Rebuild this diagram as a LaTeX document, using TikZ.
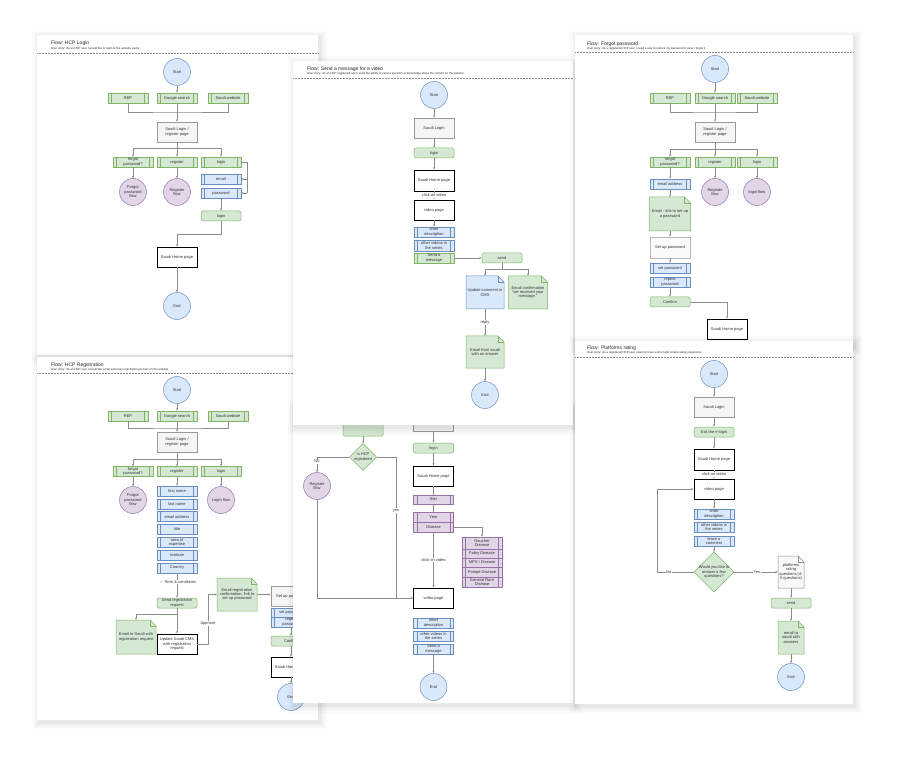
\documentclass[tikz,border=0pt]{standalone}
\usepackage{fontspec}
\setmainfont{Liberation Sans}
\newfontfamily\djv{DejaVu Sans}
\usetikzlibrary{arrows.meta,calc}
\definecolor{gfill}{HTML}{D5E8D4}
\definecolor{gline}{HTML}{82B366}
\definecolor{bfill}{HTML}{DAE8FC}
\definecolor{bline}{HTML}{6C8EBF}
\definecolor{pfill}{HTML}{E1D5E7}
\definecolor{pline}{HTML}{9673A6}
\definecolor{kfill}{HTML}{F5F5F5}
\definecolor{kline}{HTML}{9A9A9A}
\definecolor{cline}{HTML}{8C8C8C}
\definecolor{txtc}{HTML}{333333}
\tikzset{
 txt/.style={font=\fontsize{4}{4.4}\selectfont, text=txtc, align=center, inner sep=0.5pt},
 bx/.style={txt, rectangle, minimum width=40pt, minimum height=10pt, line width=0.5pt},
 innerlines/.style={path picture={\draw[#1, line width=0.4pt] ([xshift=3.5pt]path picture bounding box.north west) -- ([xshift=3.5pt]path picture bounding box.south west) ([xshift=-3.5pt]path picture bounding box.north east) -- ([xshift=-3.5pt]path picture bounding box.south east);}},
 procg/.style={bx, fill=gfill, draw=gline, innerlines=gline},
 procb/.style={bx, fill=bfill, draw=bline, innerlines=bline},
 procp/.style={bx, fill=pfill, draw=pline, innerlines=pline},
 rndg/.style={bx, fill=gfill, draw=gline, rounded corners=1.5pt},
 grayb/.style={bx, fill=kfill, draw=kline, minimum height=20pt},
 homeb/.style={bx, fill=white, draw=black, line width=0.9pt, minimum height=20pt},
 circb/.style={txt, circle, minimum size=27pt, fill=bfill, draw=bline, line width=0.5pt},
 circp/.style={txt, circle, minimum size=27pt, fill=pfill, draw=pline, line width=0.5pt},
 ln/.style={draw=cline, line width=0.45pt},
 arr/.style={ln, -{Stealth[length=2.4pt,width=2pt]}},
 lbl/.style={txt, fill=white, inner sep=0.6pt},
 ttl/.style={font=\fontsize{5}{6}\selectfont, text=black!85, anchor=west, inner sep=0pt},
 sty/.style={font=\fontsize{2.9}{3.5}\selectfont, text=black!85, anchor=west, inner sep=0pt},
 hdots/.style={draw=black!45, dash pattern=on 0.6pt off 0.9pt, line width=0.4pt},
}
\newcommand\panel[4]{%
 \foreach \s/\o in {7/0.015,5/0.02,3/0.025,1.5/0.03}{\fill[black, opacity=\o] (#1-\s+1.5,#2-\s+2.5) rectangle (#3+\s+1.5,#4+\s+2.5);}
 \fill[white] (#1,#2) rectangle (#3,#4);
}
\newcommand\notenode[7]{%
 \path[#6, line width=0.5pt] (#2-#4/2,#3-#5/2) -- (#2+#4/2-6,#3-#5/2) -- (#2+#4/2,#3-#5/2+6) -- (#2+#4/2,#3+#5/2) -- (#2-#4/2,#3+#5/2) -- cycle;
 \draw[#6, fill=none, line width=0.5pt] (#2+#4/2-6,#3-#5/2) -- (#2+#4/2-6,#3-#5/2+6) -- (#2+#4/2,#3-#5/2+6);
 \node[txt, minimum width=#4pt, minimum height=#5pt] (#1) at (#2,#3) {#7};
}
\newcommand\dianode[6]{%
 \path[fill=gfill, draw=gline, line width=0.5pt] (#2,#3-#5/2) -- (#2+#4/2,#3) -- (#2,#3+#5/2) -- (#2-#4/2,#3) -- cycle;
 \node[txt, minimum width=#4pt, minimum height=#5pt] (#1) at (#2,#3) {#6};
}
\begin{document}
\begin{tikzpicture}[x=1pt,y=-1pt]
\useasboundingbox (0,0) rectangle (897,759);
\fill[white] (0,0) rectangle (897,759);

% ================= P1 HCP Login
\panel{37}{35}{318}{355}
\node[ttl] (aTi) at (51,43) {Flow: HCP Login};
\node[sty] (aSt) at (51,48.5) {User story: As an HCP user I would like to login to the website easily};
\draw[hdots] (37,53) -- (318,53);
\node[circb] (aStart) at (177,72) {Start};
\node[procg] (aRep) at (128,98) {REP};
\node[procg] (aGoo) at (177,98) {Google search};
\node[procg] (aWeb) at (228,98) {Saudi website};
\coordinate (aJ) at (177,112);
\node[grayb] (aBox) at (177,132) {Saudi Login /\\register page};
\coordinate (aB) at (177,148);
\node[procg] (aFp) at (133,162) {forgot\\password?};
\node[procg] (aReg) at (177,162) {register};
\node[procg] (aLog) at (221,162) {login};
\node[circp] (aFpf) at (133,192) {Forgot\\password\\flow};
\node[circp] (aRegf) at (177,192) {Register\\flow};
\node[procb] (aEm) at (221,179) {email};
\node[procb] (aPw) at (221,193) {password};
\coordinate (aR1) at (247,162); \coordinate (aR2) at (247,179); \coordinate (aR3) at (247,193);
\node[rndg] (aLog2) at (221,216) {login};
\coordinate (aK) at (221,234);
\node[homeb] (aHome) at (177,257) {Saudi Home page};
\node[circb] (aEnd) at (177,306) {End};
\draw[arr] (aStart) -- (aGoo);
\draw[ln] (aRep.south) |- (aJ) -| (aWeb.south);
\draw[arr] (aGoo) -- (aBox);
\draw[ln] (aBox) -- (aB);
\draw[arr] (aB) -| (aFp.north);
\draw[arr] (aB) -| (aLog.north);
\draw[arr] (aB) -- (aReg);
\draw[arr] (aFp) -- (aFpf);
\draw[arr] (aReg) -- (aRegf);
\draw[ln] (aLog.east) -- (aR1) -- (aR3);
\draw[arr] (aR2) -- (aEm.east);
\draw[arr] (aR3) -- (aPw.east);
\draw[arr] (aPw) -- (aLog2);
\draw[arr] (aLog2.south) -- (aK) -| (aHome.north);
\draw[arr] (aHome) -- (aEnd);

% ================= P4 HCP Registration
\panel{37}{357}{318}{720}
\node[ttl] (dTi) at (51,365) {Flow: HCP Registration};
\node[sty] (dSt) at (51,369.5) {User story: As an HCP user I would like a fast and easy registration process on the website};
\draw[hdots] (37,373) -- (318,373);
\node[circb] (dStart) at (177,390) {Start};
\node[procg] (dRep) at (128,416) {REP};
\node[procg] (dGoo) at (177,416) {Google search};
\node[procg] (dWeb) at (228,416) {Saudi website};
\coordinate (dJ) at (177,428);
\node[grayb] (dBox) at (177,442) {Saudi Login /\\register page};
\coordinate (dB) at (177,459);
\node[procg] (dFp) at (133,471.5) {forgot\\password?};
\node[procg] (dReg) at (177,471.5) {register};
\node[procg] (dLog) at (221,471.5) {login};
\node[circp] (dFpf) at (133,500) {Forgot\\password\\flow};
\node[circp] (dLogf) at (221,500) {Login flow};
\node[procb] (dF1) at (177,491) {first name};
\node[procb] (dF2) at (177,503.8) {last name};
\node[procb] (dF3) at (177,516.6) {email address};
\node[procb] (dF4) at (177,529.4) {title};
\node[procb] (dF5) at (177,542.2) {area of\\expertise};
\node[procb] (dF6) at (177,555) {Institute};
\node[procb] (dF7) at (177,567.8) {Country};
\node[rndg] (dSend) at (177,603) {Send registration\\request};
\draw[arr] (dF7) -- (dSend);
\node[lbl] (dTerms) at (178,582) {{\djv\color{gline!85!black}✓}\ Term \& conditions};
\coordinate (dK) at (177,614);
\notenode{dMail}{136}{637}{40}{34}{fill=gfill,draw=gline}{Email to Saudi with\\registration request}
\node[homeb] (dCms) at (177,644) {Update Saudi CMS\\with registration\\request};
\coordinate (dAp1) at (208,644); \coordinate (dAp2) at (208,594.5);
\notenode{dConf}{237}{594.5}{40}{33}{fill=gfill,draw=gline}{Email registration\\confirmation, link to\\set up password}
\node[grayb] (dSetup) at (291,596) {Set up password};
\node[procb, minimum height=9pt] (dSp) at (291,612.5) {set password};
\node[procb] (dRp) at (291,622) {repeat\\password};
\node[rndg] (dCf) at (291,641) {Confirm};
\node[homeb] (dHome) at (291,667) {Saudi Home page};
\node[circb] (dEnd) at (291,697) {End};
\draw[arr] (dStart) -- (dGoo);
\draw[ln] (dRep.south) |- (dJ) -| (dWeb.south);
\draw[arr] (dGoo) -- (dBox);
\draw[ln] (dBox) -- (dB);
\draw[arr] (dB) -| (dFp.north);
\draw[arr] (dB) -| (dLog.north);
\draw[arr] (dB) -- (dReg);
\draw[arr] (dFp) -- (dFpf);
\draw[arr] (dLog) -- (dLogf);
\draw[arr] (dReg) -- (dF1);
\draw[arr] (dSend) -- (dCms);
\draw[arr] (dK) -| (dMail.north);
\draw[arr] (dCms.east) -- (dAp1) -- node[lbl, pos=0.42] (dApl) {Approve} (dAp2) -- (dConf.west);
\draw[arr] (dConf.east) -- (dSetup.west |- dConf.east);
\draw[arr] (dRp) -- (dCf);
\draw[arr] (dCf) -- (dHome);
\draw[arr] (dHome) -- (dEnd);

% ================= P5 (partly hidden)
\panel{293}{405}{573}{703}
\node[rndg, minimum height=23pt] (eStart) at (363,424.5) {start};
\node[grayb, minimum height=22pt] (eSlog) at (433.5,420) {Saudi Login};
\dianode{eDia}{363}{457}{27}{27}{Is HCP\\registered}
\node[circp] (eRegf) at (317,486) {Register\\flow};
\node[rndg] (eLg) at (433.5,448) {login};
\node[homeb] (eHome) at (433.5,476) {Saudi Home page};
\node[procp, minimum height=9pt] (eFilter) at (433.5,499.5) {filter};
\node[procp] (eYear) at (433.5,517) {Year};
\node[procp] (eDis) at (433.5,527) {Disease};
\node[procp, minimum height=12pt] (eGau) at (482,543) {Gaucher\\Disease};
\node[procp, minimum height=9pt] (eFab) at (482,553.5) {Fabry Disease};
\node[procp, minimum height=9pt] (eMps) at (482,562.5) {MPS I Disease};
\node[procp] (ePom) at (482,572) {Pompe Disease};
\node[procp] (eGen) at (482,582) {General Rare\\Disease};
\node[homeb] (eVid) at (433.5,598) {video page};
\node[procb] (eSd) at (433.5,623) {short\\description};
\node[procb] (eOv) at (433.5,636) {other videos in\\the series};
\node[procb] (eSm) at (433.5,649) {Send a\\message};
\node[circb] (eEnd) at (433.5,687) {End};
\coordinate (eN1) at (317,457);
\coordinate (eY1) at (396,457); \coordinate (eY2) at (396,598);
\draw[arr] (eStart) -- (eDia.north);
\draw[arr] (eDia.west) -- (eN1) -- node[lbl, pos=0.3] (eNo) {No} (eRegf.north);
\draw[ln] (eDia.east) -- (eY1) -- node[lbl, pos=0.38] (eYes) {yes} (eY2);
\draw[arr] (eRegf.south) |- (eVid.west);
\draw[arr] (eSlog) -- (eLg);
\draw[arr] (eLg) -- (eHome);
\draw[ln] (eHome) -- (eFilter);
\draw[ln] (eFilter) -- (eYear);
\draw[arr] (eDis.east) -| (eGau.north);
\draw[arr] (eDis) -- node[lbl] (eCl) {click on video} (eVid);
\draw[arr] (eSm) -- (eEnd);

% ================= P2 Send a message
\panel{293}{61}{573}{425}
\node[ttl] (bTi) at (307,69) {Flow: Send a message for a video};
\node[sty] (bSt) at (307,74) {User story: As an HCP registered user I want the ability to send a question or knowledge about the content on the website};
\draw[hdots] (293,78) -- (573,78);
\node[circb] (bStart) at (434,95) {Start};
\node[grayb] (bLogin) at (434,128) {Saudi Login};
\node[rndg] (bLg) at (434,153) {login};
\node[homeb, minimum height=21pt] (bHome) at (434,180.5) {Saudi Home page};
\node[homeb] (bVid) at (434,210) {video page};
\node[procb] (bSd) at (434,232) {short\\description};
\node[procb, minimum height=11pt] (bOv) at (434,245.5) {other videos in\\the series};
\node[procg] (bSm) at (434,258) {Send a\\message};
\node[rndg] (bSend) at (502,258) {send};
\coordinate (bJ) at (502,269);
\notenode{bCms}{485}{292.5}{38}{33}{fill=bfill,draw=bline}{Update comment in\\CMS}
\notenode{bConf}{528}{292.5}{39}{33}{fill=gfill,draw=gline}{Email confirmation\\"we received your\\message."}
\notenode{bAns}{485}{352}{38}{32}{fill=gfill,draw=gline}{Email from saudi\\with an answer}
\node[circb] (bEnd) at (485,395) {End};
\draw[arr] (bStart) -- (bLogin);
\draw[arr] (bLogin) -- (bLg);
\draw[arr] (bLg) -- (bHome);
\draw[arr] (bHome) -- node[lbl] (bCl) {click on video} (bVid);
\draw[arr] (bVid) -- (bSd);
\draw[arr] (bSm) -- (bSend);
\draw[ln] (bSend) -- (bJ);
\draw[arr] (bJ) -| (bCms.north);
\draw[arr] (bJ) -| (bConf.north);
\draw[arr] (bCms) -- node[lbl] (bRe) {reply} (bAns);
\draw[arr] (bAns) -- (bEnd);

% ================= P3 Forgot password
\panel{575}{35}{853}{345}
\node[ttl] (cTi) at (587,44) {Flow: Forgot password};
\node[sty] (cSt) at (587,48.5) {User story: As a registered HCP user I need a way to restore my password in case I forgot it};
\draw[hdots] (575,52) -- (853,52);
\node[circb] (cStart) at (715,69) {Start};
\node[procg] (cRep) at (670,98) {REP};
\node[procg] (cGoo) at (715,98) {Google search};
\node[procg] (cWeb) at (757,98) {Saudi website};
\coordinate (cJ) at (715,112);
\node[grayb] (cBox) at (715,132) {Saudi Login /\\register page};
\coordinate (cB) at (715,149);
\node[procg] (cFp) at (670,162) {forgot\\password?};
\node[procg] (cReg) at (715,162) {register};
\node[procg] (cLog) at (757,162) {login};
\node[procb] (cEm) at (670,184) {email address};
\node[circp] (cRegf) at (715,192) {Register\\flow};
\node[circp] (cLogf) at (757,192) {login flow};
\notenode{cNote}{670}{214}{41}{34}{fill=gfill,draw=gline}{Email - link to set up\\a password}
\node[bx, fill=white!60!kfill, draw=kline!70, minimum height=21pt] (cSetup) at (670,247.5) {Set up password};
\node[procb] (cSp) at (670,268) {set password};
\node[procb] (cRp) at (670,282) {repeat\\password};
\node[rndg] (cConf) at (670,302) {Confirm};
\node[homeb] (cHome) at (727,329) {Saudi Home page};
\draw[arr] (cStart) -- (cGoo);
\draw[ln] (cRep.south) |- (cJ) -| (cWeb.south);
\draw[arr] (cGoo) -- (cBox);
\draw[ln] (cBox) -- (cB);
\draw[arr] (cB) -| (cFp.north);
\draw[arr] (cB) -| (cLog.north);
\draw[arr] (cB) -- (cReg);
\draw[arr] (cFp) -- (cEm);
\draw[arr] (cReg) -- (cRegf);
\draw[arr] (cLog) -- (cLogf);
\draw[arr] (cEm) -- (cNote);
\draw[arr] (cNote) -- (cSetup);
\draw[arr] (cSetup) -- (cSp);
\draw[arr] (cRp) -- (cConf);
\draw[arr] (cConf.east) -| (cHome.north);

% ================= P6 Platforms rating
\panel{575}{341}{853}{704}
\node[ttl] (fTi) at (587,348) {Flow: Platforms rating};
\node[sty] (fSt) at (587,353) {User story: As a registered HCP user I want to have a short and simple rating experience};
\draw[hdots] (575,357) -- (853,357);
\node[circb] (fStart) at (714,374) {Start};
\node[grayb] (fLogin) at (714,407) {Saudi Login};
\node[rndg] (fExit) at (714,432) {Exit the e login};
\node[homeb, minimum height=21pt] (fHome) at (714,459.5) {Saudi Home page};
\node[homeb] (fVid) at (714,489) {video page};
\node[procb] (fSd) at (714,514) {short\\description};
\node[procb] (fOv) at (714,527) {other videos in\\the series};
\node[procb] (fLc) at (714,541) {leave a\\comment};
\dianode{fDia}{714}{572}{40}{40}{Would you like to\\answer a few\\questions?}
\notenode{fQ}{791}{572}{26}{32}{fill=kfill!60!white,draw=black!45}{platforms\\rating\\questions (4-\\5 questions)}
\node[rndg] (fSend) at (791,603) {send};
\notenode{fMail}{791}{637.5}{26}{33}{fill=gfill,draw=gline}{email to\\saudi with\\answers}
\node[circb] (fEnd) at (791,677) {End};
\coordinate (fN1) at (657,572); \coordinate (fN2) at (657,489);
\draw[arr] (fStart) -- (fLogin);
\draw[arr] (fLogin) -- (fExit);
\draw[arr] (fExit) -- (fHome);
\draw[arr] (fHome) -- node[lbl] (fCl) {click on video} (fVid);
\draw[arr] (fVid) -- (fSd);
\draw[arr] (fLc) -- (fDia.north);
\draw[arr] (fDia.west) -- node[lbl, pos=0.68] (fNo) {No} (fN1) -- (fN2) -- (fVid.west);
\draw[arr] (fDia.east) -- node[lbl, pos=0.52] (fYes) {Yes} (fQ.west);
\draw[arr] (fQ) -- (fSend);
\draw[arr] (fSend) -- (fMail);
\draw[arr] (fMail) -- (fEnd);
\end{tikzpicture}
\end{document}
